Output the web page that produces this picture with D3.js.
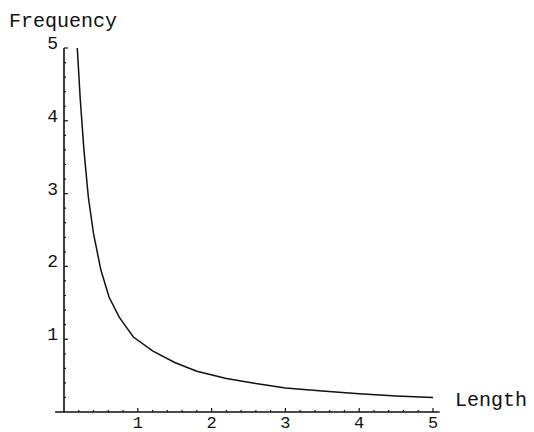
<!DOCTYPE html>
<html>
<head>
<meta charset="UTF-8" />
<title>Frequency vs Length</title>
<script src="https://d3js.org/d3.v7.min.js"></script>
<style>
  body { margin: 0; background: #fff; }
  text { font-family: "Liberation Mono", "DejaVu Sans Mono", monospace; fill: #111; }
  .axis-line { stroke: #111; stroke-width: 1.6px; }
  .tick { stroke: #111; stroke-width: 1.2px; }
  .curve { fill: none; stroke: #111; stroke-width: 1.5px; }
</style>
</head>
<body>
<svg width="534" height="432"></svg>
<script>
  const width = 534, height = 432;

  // values
  const lengths =     [0.18, 0.22, 0.27, 0.33, 0.4, 0.5, 0.61, 0.75, 0.94, 1.2, 1.5, 1.8, 2.2, 2.6, 3.0, 3.5, 4.0, 4.5, 5.0];
  const frequencies = [5.0, 4.3, 3.6, 2.95, 2.45, 1.95, 1.58, 1.3, 1.03, 0.84, 0.68, 0.56, 0.46, 0.39, 0.33, 0.29, 0.25, 0.22, 0.2];
  const xTicks = [1, 2, 3, 4, 5];
  const yTicks = [1, 2, 3, 4, 5];

  const x = d3.scaleLinear().domain([0, 5]).range([64, 433]);
  const y = d3.scaleLinear().domain([0, 5]).range([412, 48]);

  const svg = d3.select("svg");

  // axes
  svg.append("line").attr("class", "axis-line")
    .attr("x1", x(-0.12)).attr("x2", x(5.09))
    .attr("y1", y(0)).attr("y2", y(0));
  svg.append("line").attr("class", "axis-line")
    .attr("x1", x(0)).attr("x2", x(0))
    .attr("y1", y(0)).attr("y2", y(5));

  // minor ticks
  const minor = d3.range(0.2, 5.01, 0.2).filter(v => Math.abs(v - Math.round(v)) > 0.01);
  svg.append("g").selectAll("line").data(minor).enter().append("line")
    .attr("class", "tick")
    .attr("x1", d => x(d)).attr("x2", d => x(d))
    .attr("y1", y(0)).attr("y2", y(0) - 2);
  svg.append("g").selectAll("line").data(minor).enter().append("line")
    .attr("class", "tick")
    .attr("x1", x(0)).attr("x2", x(0) + 2)
    .attr("y1", d => y(d)).attr("y2", d => y(d));

  // major ticks
  svg.append("g").selectAll("line").data(xTicks).enter().append("line")
    .attr("class", "tick")
    .attr("x1", d => x(d)).attr("x2", d => x(d))
    .attr("y1", y(0)).attr("y2", y(0) - 4);
  svg.append("g").selectAll("line").data(yTicks).enter().append("line")
    .attr("class", "tick")
    .attr("x1", x(0)).attr("x2", x(0) + 4)
    .attr("y1", d => y(d)).attr("y2", d => y(d));

  // tick labels
  svg.append("g").selectAll("text").data(xTicks).enter().append("text")
    .attr("x", d => x(d)).attr("y", y(0) + 16)
    .attr("text-anchor", "middle").attr("font-size", 17)
    .text(d => d);
  svg.append("g").selectAll("text").data(yTicks).enter().append("text")
    .attr("x", x(0) - 6).attr("y", d => y(d) + 1)
    .attr("text-anchor", "end").attr("font-size", 18)
    .text(d => d);

  // axis labels
  svg.append("text").attr("x", 9).attr("y", 27).attr("font-size", 20).text("Frequency");
  svg.append("text").attr("x", 455).attr("y", 406).attr("font-size", 20).text("Length");

  // curve
  const pts = lengths.map((l, i) => [l, frequencies[i]]);
  svg.append("path").attr("class", "curve")
    .attr("d", d3.line().x(d => x(d[0])).y(d => y(d[1]))(pts));
</script>
</body>
</html>
